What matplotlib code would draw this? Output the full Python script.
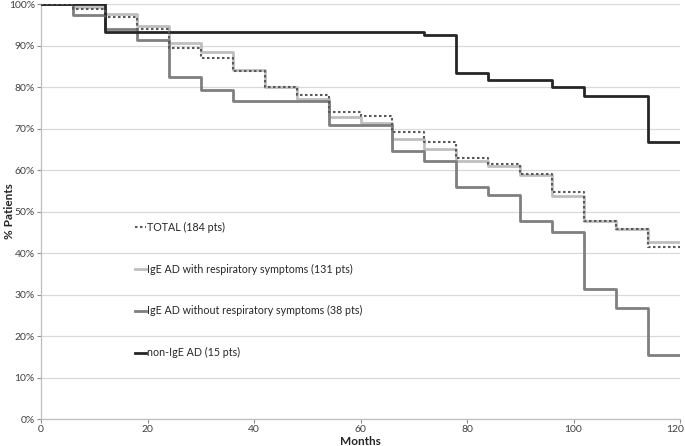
import matplotlib
matplotlib.use("Agg")
import matplotlib.pyplot as plt
import matplotlib.transforms as mtransforms

plt.rcParams['font.family'] = ['Lato', 'DejaVu Sans']

# Kaplan-Meier style curves, value at start of each 6-month interval (%)
months = [0, 6, 12, 18, 24, 30, 36, 42, 48, 54, 60, 66, 72, 78, 84, 90, 96, 102, 108, 114, 120]
total = [100, 98.9, 96.8, 94.0, 89.5, 87.1, 83.9, 79.9, 78.1, 74.0, 73.0, 69.2, 66.7,
         62.8, 61.4, 59.0, 54.6, 47.8, 45.9, 41.5, 41.5]
ige_resp = [100, 99.2, 97.6, 94.6, 90.7, 88.4, 84.1, 80.1, 77.0, 72.8, 71.4, 67.5, 65.1,
            62.2, 61.0, 58.8, 53.8, 47.8, 45.9, 42.6, 42.6]
ige_noresp = [100, 97.3, 94.0, 91.3, 82.3, 79.4, 76.6, 76.6, 76.6, 70.8, 70.8, 64.6, 62.2,
              56.0, 54.1, 47.7, 45.0, 31.3, 26.7, 15.4, 15.4]
non_ige = [100, 100, 93.3, 93.3, 93.3, 93.3, 93.3, 93.3, 93.3, 93.3, 93.3, 93.3, 92.5,
           83.4, 81.8, 81.8, 80.0, 77.8, 77.8, 66.7, 66.7]

labels = ['TOTAL (184 pts)',
          'IgE AD with respiratory symptoms (131 pts)',
          'IgE AD without respiratory symptoms (38 pts)',
          'non-IgE AD (15 pts)']

xticks = [0, 20, 40, 60, 80, 100, 120]
yticks = [0, 10, 20, 30, 40, 50, 60, 70, 80, 90, 100]
ytick_labels = ['0%', '10%', '20%', '30%', '40%', '50%', '60%', '70%', '80%', '90%', '100%']

fig = plt.figure(figsize=(6.85, 4.46), dpi=100)
ax = fig.add_axes([0.06, 0.0605, 0.9327, 0.9305])

h_light, = ax.step(months, ige_resp, where='post', color='#bfbfbf', lw=2, zorder=3)
h_dark, = ax.step(months, ige_noresp, where='post', color='#7f7f7f', lw=2, zorder=3)
h_black, = ax.step(months, non_ige, where='post', color='#262626', lw=2, zorder=4)
h_tot, = ax.step(months, total, where='post', color='#595959', lw=1.5,
                 linestyle=(0, (1.2, 1.2)), zorder=5)

ax.set_xlim(0, 120)
ax.set_ylim(0, 100)
ax.set_xticks(xticks)
ax.set_yticks(yticks)
ax.set_yticklabels(ytick_labels)
ax.tick_params(axis='both', labelsize=7.5, colors='#8c8c8c', length=3, width=0.8,
               pad=1.5, labelcolor='#404040')
ax.grid(axis='y', color='#d9d9d9', lw=0.9)
ax.set_axisbelow(True)
for s in ['top', 'right']:
    ax.spines[s].set_visible(False)
for s in ['left', 'bottom']:
    ax.spines[s].set_color('#bfbfbf')
    ax.spines[s].set_linewidth(0.9)

# last x label sits on the right edge, keep it inside the figure
last = ax.get_xticklabels()[-1]
last.set_ha('right')
last.set_transform(last.get_transform() +
                   mtransforms.ScaledTranslation(4 / 100, 0, fig.dpi_scale_trans))

ax.set_xlabel('Months', fontsize=8.5, fontweight='bold', color='#262626')
ax.set_ylabel('% Patients', fontsize=8.5, fontweight='bold', color='#262626')
ax.xaxis.set_label_coords(0.5, -0.04)
ax.yaxis.set_label_coords(-0.041, 0.5)

ax.legend([h_tot, h_light, h_dark, h_black], labels, loc='center left',
          bbox_to_anchor=(0.14, 0.311), frameon=False, fontsize=7.7,
          handlelength=1.05, handletextpad=0.05, labelspacing=2.88, labelcolor='#262626',
          borderaxespad=0)

fig.savefig('out.png', dpi=100)
